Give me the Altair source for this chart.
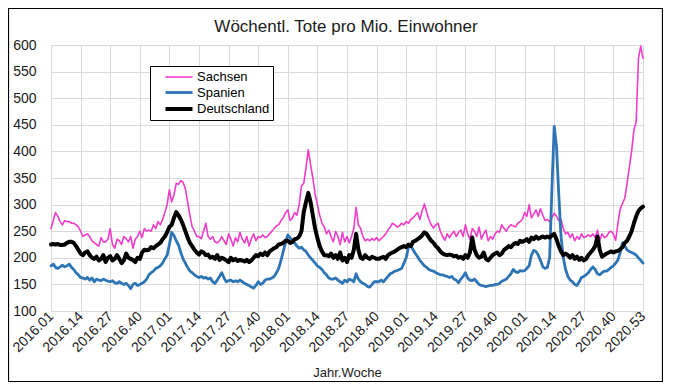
import altair as alt
import pandas as pd

# ---------------- data ----------------
years = [2016, 2017, 2018, 2019, 2020]
weeks_per_year = [52, 52, 52, 52, 53]
series_names = ["Sachsen", "Spanien", "Deutschland"]
series_colors = ["#F03CC8", "#2E75B6", "#000000"]
series_widths = [1.6, 4.0, 4.6]
chart_title = "Wöchentl. Tote pro Mio. Einwohner"

sachsen_2016 = [255, 270, 285, 278, 268, 262, 270, 268, 268, 265,
                265, 262, 258, 250, 240, 243, 245, 240, 232, 228,
                225, 222, 238, 230, 230, 235, 255, 225, 218, 235,
                232, 225, 240, 236, 230, 240, 218, 235, 240, 250,
                238, 255, 250, 252, 250, 262, 255, 268, 262, 272, 285, 300]
sachsen_2017 = [328, 305, 318, 340, 338, 345, 342, 330, 305, 280,
                258, 250, 240, 240, 236, 250, 265, 240, 235, 240,
                230, 228, 232, 240, 232, 225, 245, 235, 222, 238,
                230, 248, 235, 228, 240, 222, 236, 245, 232, 240,
                238, 243, 238, 240, 245, 250, 255, 260, 262, 270, 275, 285]
sachsen_2018 = [290, 270, 275, 285, 280, 300, 335, 340, 370, 403,
                375, 350, 320, 300, 280, 265, 258, 245, 252, 240,
                230, 250, 240, 225, 248, 230, 240, 228, 240, 255,
                295, 262, 255, 240, 232, 235, 232, 236, 233, 238,
                232, 236, 240, 245, 252, 258, 265, 262, 258, 260, 265, 262]
sachsen_2019 = [268, 265, 272, 275, 280, 285, 272, 288, 301, 285,
                272, 262, 256, 262, 265, 250, 240, 233, 245, 238,
                245, 250, 240, 248, 252, 240, 262, 245, 235, 255,
                250, 240, 258, 235, 245, 252, 232, 240, 235, 245,
                250, 248, 262, 255, 250, 258, 262, 260, 258, 265, 268, 272]
sachsen_2020 = [285, 278, 300, 275, 282, 290, 278, 292, 280, 270,
                272, 268, 275, 284, 278, 270, 272, 255, 245, 248,
                238, 245, 232, 240, 235, 245, 238, 240, 243, 240,
                245, 238, 252, 232, 245, 238, 240, 248, 250, 245,
                233, 265, 292, 302, 312, 340, 370, 400, 440, 455, 575, 598, 575]

spanien_2016 = [185, 188, 182, 180, 183, 186, 183, 185, 188, 182,
                178, 172, 168, 163, 162, 160, 163, 158, 162, 155,
                160, 158, 157, 160, 158, 156, 155, 157, 153, 152,
                155, 152, 150, 152, 148, 142, 150, 152, 148, 150,
                152, 155, 160, 168, 172, 175, 180, 182, 185, 190, 198, 205]
spanien_2017 = [225, 248, 242, 232, 224, 210, 198, 190, 182, 175,
                172, 168, 165, 163, 165, 162, 163, 160, 162, 155,
                152, 158, 165, 172, 162, 155, 157, 158, 155, 157,
                155, 158, 155, 152, 150, 148, 145, 143, 148, 155,
                150, 152, 158, 160, 160, 162, 165, 172, 180, 195, 212, 228]
spanien_2018 = [243, 238, 232, 228, 222, 218, 220, 215, 212, 205,
                200, 195, 190, 185, 182, 178, 172, 168, 162, 160,
                160, 162, 158, 155, 152, 158, 155, 160, 158, 155,
                170, 160, 155, 152, 150, 146, 145, 150, 155, 155,
                155, 158, 155, 160, 165, 170, 172, 175, 176, 178, 180, 190]
spanien_2019 = [200, 220, 224, 215, 208, 202, 195, 190, 185, 182,
                178, 176, 175, 172, 170, 168, 168, 166, 165, 163,
                165, 160, 158, 153, 160, 165, 172, 162, 158, 157,
                160, 155, 150, 148, 147, 146, 147, 148, 148, 150,
                150, 152, 156, 158, 160, 165, 170, 178, 174, 172, 176, 175]
spanien_2020 = [176, 180, 185, 205, 214, 212, 205, 195, 183, 180,
                182, 200, 330, 447, 410, 320, 240, 200, 178, 165,
                158, 155, 150, 148, 155, 163, 165, 168, 172, 178,
                183, 178, 170, 168, 172, 175, 175, 178, 182, 185,
                190, 196, 210, 228, 222, 215, 212, 210, 208, 205, 200, 195, 190]

deutschland_2016 = [225, 226, 225, 226, 224, 224, 225, 228, 230, 230,
                    228, 222, 215, 208, 205, 210, 212, 205, 200, 198,
                    202, 195, 198, 205, 192, 200, 203, 195, 198, 205,
                    198, 190, 195, 208, 200, 198, 196, 192, 200, 198,
                    210, 215, 214, 215, 220, 218, 222, 225, 228, 235, 240, 248]
deutschland_2017 = [258, 262, 275, 286, 280, 272, 262, 250, 238, 228,
                    222, 215, 210, 206, 212, 210, 205, 206, 200, 202,
                    198, 205, 196, 200, 198, 195, 192, 200, 195, 198,
                    194, 196, 195, 193, 196, 192, 195, 200, 205, 203,
                    208, 205, 210, 205, 212, 215, 218, 220, 225, 226, 228, 232]
deutschland_2018 = [232, 228, 230, 235, 236, 240, 250, 286, 305, 322,
                    305, 280, 255, 237, 222, 212, 205, 205, 203, 208,
                    200, 205, 198, 210, 195, 200, 192, 205, 200, 215,
                    245, 215, 200, 198, 205, 200, 198, 202, 200, 198,
                    198, 200, 202, 198, 205, 208, 210, 212, 215, 218, 220, 222]
deutschland_2019 = [220, 225, 222, 230, 232, 235, 238, 242, 248, 245,
                    238, 232, 228, 222, 218, 212, 208, 206, 205, 206,
                    205, 203, 204, 200, 202, 198, 205, 200, 210, 238,
                    215, 205, 200, 202, 210, 198, 195, 200, 205, 208,
                    210, 205, 208, 215, 218, 222, 220, 225, 228, 226, 232, 230]
deutschland_2020 = [232, 235, 230, 238, 235, 240, 236, 238, 240, 238,
                    240, 238, 242, 245, 235, 222, 212, 205, 208, 205,
                    200, 205, 198, 202, 196, 200, 195, 198, 205, 210,
                    215, 222, 240, 215, 202, 205, 208, 210, 212, 210,
                    212, 213, 216, 220, 228, 232, 240, 250, 265, 278, 288, 293, 296]

sachsen = sachsen_2016 + sachsen_2017 + sachsen_2018 + sachsen_2019 + sachsen_2020
spanien = spanien_2016 + spanien_2017 + spanien_2018 + spanien_2019 + spanien_2020
deutschland = (deutschland_2016 + deutschland_2017 + deutschland_2018
               + deutschland_2019 + deutschland_2020)

week_labels = [f"{y}.{w:02d}" for y, n in zip(years, weeks_per_year) for w in range(1, n + 1)]
tick_labels = week_labels[::13]

rows = []
for name, vals in zip(series_names, [sachsen, spanien, deutschland]):
    for lab, v in zip(week_labels, vals):
        rows.append({"Woche": lab, "Wert": v, "Serie": name})
df = pd.DataFrame(rows)

FONT = "Liberation Sans"
W, H = 592, 266

x_enc = alt.X("Woche:N", sort=None,
              scale=alt.Scale(type="point", padding=0, domain=week_labels),
              axis=alt.Axis(values=tick_labels, labelAngle=315, labelAlign="right",
                            labelBaseline="middle", labelPadding=3, ticks=False,
                            domain=False, grid=True, gridColor="#D9D9D9",
                            labelFont=FONT, labelFontSize=14, labelColor="#1a1a1a",
                            title="Jahr.Woche", titleFont=FONT, titleFontSize=13,
                            titleFontWeight="normal", titleColor="#1a1a1a",
                            titleBaseline="alphabetic", titleY=65))
y_enc = alt.Y("Wert:Q", scale=alt.Scale(domain=[100, 600], nice=False, zero=False),
              axis=alt.Axis(values=list(range(100, 601, 50)), ticks=False, domain=False,
                            grid=True, gridColor="#D9D9D9", labelPadding=15,
                            labelFont=FONT, labelFontSize=14, labelColor="#1a1a1a",
                            title=None))
color_enc = alt.Color("Serie:N",
                      scale=alt.Scale(domain=series_names, range=series_colors),
                      legend=alt.Legend(title=None, orient="none", legendX=99, legendY=21,
                                        direction="vertical", symbolType="M-2,0H2",
                                        symbolSize=182, symbolFillColor="transparent",
                                        labelFont=FONT, labelFontSize=13,
                                        labelExpr="datum.label + '\u00a0\u00a0\u00a0\u00a0\u00a0'",
                                        labelColor="#000000", strokeColor="#000000",
                                        fillColor="#FFFFFF", padding=3, labelOffset=9,
                                        rowPadding=-1, symbolOffset=17, labelLimit=200))
width_enc = alt.StrokeWidth("Serie:N",
                            scale=alt.Scale(domain=series_names, range=series_widths),
                            legend=None)

layers = []
for name in series_names:
    layers.append(
        alt.Chart(df).transform_filter(alt.datum.Serie == name)
        .mark_line(strokeJoin="round", strokeCap="round")
        .encode(x=x_enc, y=y_enc, color=color_enc, strokeWidth=width_enc)
    )

title_layer = alt.Chart(alt.Data(values=[{"t": chart_title}])).mark_text(
    font=FONT, fontSize=17, color="#1a1a1a", align="center", baseline="alphabetic"
).encode(x=alt.value(W / 2 - 1), y=alt.value(-13), text="t:N")

frame = alt.Chart(alt.Data(values=[{"a": 1}])).mark_rect(
    fill=None, stroke="#000000", strokeWidth=1.2
).encode(x=alt.value(-42.5), x2=alt.value(W + 19.5), y=alt.value(-36.5), y2=alt.value(H + 70.5))

chart = alt.layer(*layers, title_layer, frame).properties(
    width=W, height=H,
    autosize=alt.AutoSizeParams(type="none"),
    padding={"left": 43, "top": 37, "right": 20, "bottom": 71},
).configure_view(stroke=None).configure(background="white")

chart.save("out.html", embed_options={"renderer": "svg", "actions": False})
